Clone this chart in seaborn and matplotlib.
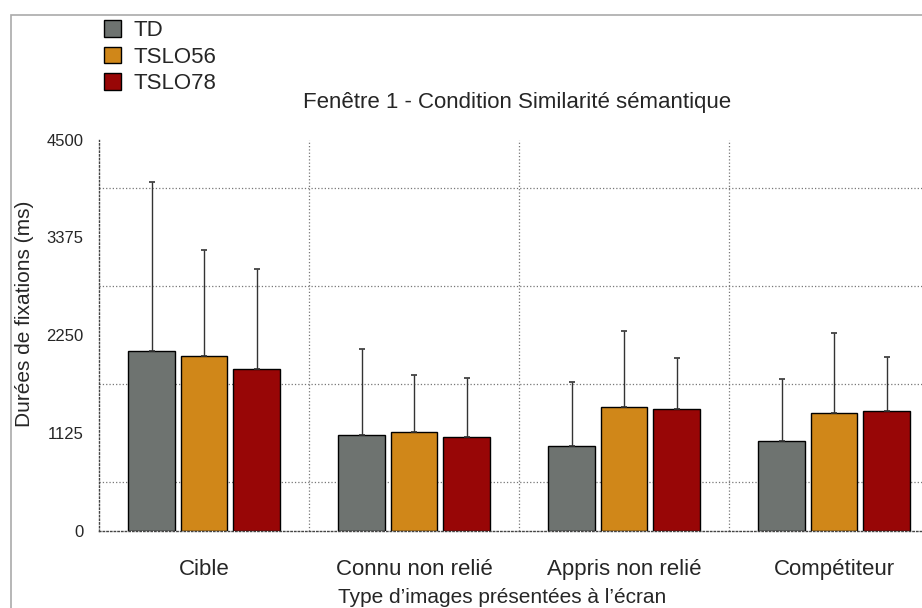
import numpy as np
import pandas as pd
import matplotlib.pyplot as plt
import seaborn as sns
from matplotlib.patches import Rectangle
from matplotlib.ticker import FixedLocator

categories = ["Cible", "Connu non relié", "Appris non relié", "Compétiteur"]
groups = ["TD", "TSLO56", "TSLO78"]
td_mean = [2069, 1100, 973, 1031]
tslo56_mean = [2008, 1141, 1422, 1353]
tslo78_mean = [1862, 1080, 1402, 1376]
td_err = [1939, 988, 736, 713]
tslo56_err = [1222, 649, 873, 919]
tslo78_err = [1149, 675, 583, 621]
y_ticks = [0, 1125, 2250, 3375, 4500]

colors = ["#6E7370", "#D08719", "#980606"]

df = pd.DataFrame({
    "type": categories * 3,
    "groupe": np.repeat(groups, len(categories)),
    "duree": td_mean + tslo56_mean + tslo78_mean,
})
errs = {"TD": td_err, "TSLO56": tslo56_err, "TSLO78": tslo78_err}

sns.set_style("white")
plt.rcParams["font.family"] = ["Liberation Sans", "DejaVu Sans"]

fig = plt.figure(figsize=(9.22, 6.08), dpi=100)
ax = fig.add_axes([99 / 922, 77 / 608, 840 / 922, 391.5 / 608])

sns.barplot(data=df, x="type", y="duree", hue="groupe", order=categories,
            hue_order=groups, palette=colors, width=0.75, gap=0.12,
            edgecolor="black", linewidth=1, saturation=1, errorbar=None, ax=ax)

# barres d'erreur (seulement vers le haut)
for cont, g in zip(ax.containers, groups):
    xs = [b.get_x() + b.get_width() / 2 for b in cont]
    ys = [b.get_height() for b in cont]
    ax.errorbar(xs, ys, yerr=[np.zeros(len(ys)), errs[g]], fmt="none",
                ecolor="#333333", elinewidth=1, capsize=2.5, capthick=1.2, zorder=1)

ax.set_ylim(0, 4500)
ax.set_xlim(-0.5, 3.5)
ax.set_yticks(y_ticks)
ax.yaxis.set_minor_locator(FixedLocator([562.5, 1687.5, 2812.5, 3937.5]))
ax.xaxis.set_minor_locator(FixedLocator([0.5, 1.5, 2.5, 3.5]))
ax.grid(which="minor", linestyle=":", color="#777777", linewidth=0.9)
ax.grid(which="major", visible=False)
ax.set_axisbelow(True)
ax.tick_params(axis="y", which="major", length=3, width=0.8, labelsize=12, pad=8)
ax.tick_params(axis="x", which="major", length=0, labelsize=16, pad=20)
ax.tick_params(axis="x", which="minor", length=3, width=0.8, direction="out")
ax.tick_params(axis="y", which="minor", length=0)
for s in ["top", "right"]:
    ax.spines[s].set_visible(False)
for s in ["left", "bottom"]:
    ax.spines[s].set_linestyle(":")
    ax.spines[s].set_color("#444444")
    ax.spines[s].set_linewidth(1)

ax.set_xlabel("")
ax.set_ylabel("")
fig.text(502 / 922, 1 - 603 / 608, "Type d’images présentées à l’écran",
         ha="center", va="baseline", fontsize=15)
fig.text(25 / 922, 1 - 314 / 608, "Durées de fixations (ms)", rotation=90,
         ha="center", va="center", fontsize=15)
fig.text(517 / 922, 1 - 108 / 608, "Fenêtre 1 - Condition Similarité sémantique",
         ha="center", va="baseline", fontsize=16)

handles, labels = ax.get_legend_handles_labels()
ax.get_legend().remove()
fig.legend(handles, labels, loc="upper left", bbox_to_anchor=(104 / 922, 1 - 20 / 608),
           frameon=False, fontsize=16, handlelength=0.78, handleheight=0.78,
           handletextpad=0.55, labelspacing=0.25, borderpad=0, borderaxespad=0)

# cadre extérieur gris
fig.patches.append(Rectangle((11 / 922, -0.1), 1.2, 1 - 15 / 608 + 0.1,
                             transform=fig.transFigure, fill=False,
                             edgecolor="#AAAAAA", linewidth=1.2))

fig.savefig("out.png", dpi=100)
